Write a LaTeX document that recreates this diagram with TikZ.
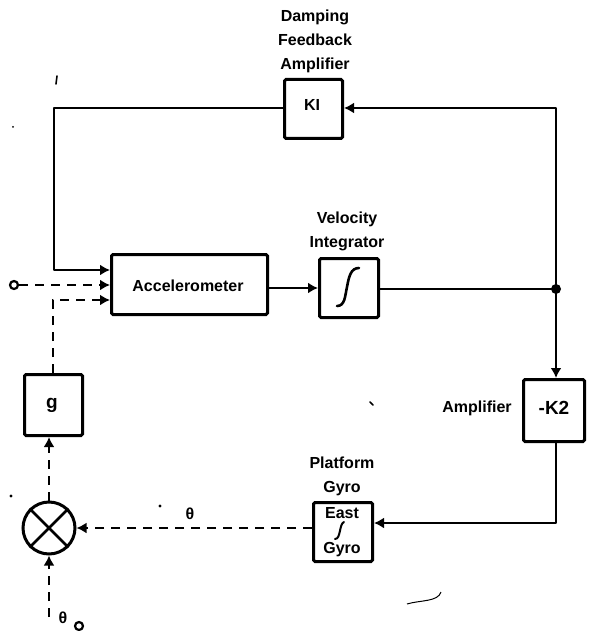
\documentclass[tikz,border=0pt]{standalone}
\usepackage{fontspec}
\setmainfont{Liberation Sans}
\usetikzlibrary{arrows.meta}
\tikzset{
 x=1pt,y=-1pt,
 blockbox/.style={draw,line width=3pt,rounded corners=1.5pt,inner sep=0pt,anchor=north west},
 lab/.style={font=\bfseries\fontsize{16}{24}\selectfont,inner sep=0pt,align=center},
 big/.style={font=\bfseries\fontsize{19}{19}\selectfont,inner sep=0pt},
 solidline/.style={line width=2.8pt,-{Latex[length=10pt,width=11pt]}},
 plainline/.style={line width=2.8pt},
 dashline/.style={line width=2.8pt,dash pattern=on 9pt off 7pt,-{Latex[length=10pt,width=11pt]}},
 smallring/.style={draw,circle,line width=2.2pt,minimum size=8pt,inner sep=0pt},
 speck/.style={line width=1.6pt,line cap=round},
 integ/.style={line width=2.6pt,line cap=round},
}
\begin{document}
\begin{tikzpicture}
\useasboundingbox (0,0) rectangle (592,631);
\fill[white] (0,0) rectangle (592,631);
\node[blockbox,minimum width=58pt,minimum height=59pt] (k1) at (283,78) {};
\node[lab] at (312,105) {KI};
\node[blockbox,minimum width=156pt,minimum height=60pt] (acc) at (110,253) {};
\node[lab] at (188,286) {Accelerometer};
\node[blockbox,minimum width=59pt,minimum height=59pt] (int) at (318,257) {};
\draw[integ] (337,306) .. controls (345,306) and (345,296) .. (347,287) .. controls (349,276) and (351,268) .. (359,268);
\node[blockbox,minimum width=58pt,minimum height=61pt] (g) at (23,373) {};
\node[big] at (52,405) {g};
\node[blockbox,minimum width=61pt,minimum height=62pt] (k2) at (522,378) {};
\node[big] at (554,408) {-K2};
\node[blockbox,minimum width=59pt,minimum height=59pt] (gyro) at (312,501) {};
\node[lab] at (342,513) {East};
\draw[line width=2pt,line cap=round] (335,539) .. controls (341,539) and (339,524) .. (344,522);
\node[lab] at (342,550) {Gyro};
\node[draw,circle,line width=3pt,minimum size=52pt,inner sep=0pt] (mix) at (49,528) {};
\draw[line width=2.6pt] (mix.north west)--(mix.south east) (mix.north east)--(mix.south west);
\node[lab] at (315,41) {Damping\\Feedback\\Amplifier};
\node[lab] at (347,231) {Velocity\\Integrator};
\node[lab] at (342,476) {Platform\\Gyro};
\node[lab] at (477,408) {Amplifier};
\node[lab] at (190,514) {θ};
\node[lab] (th0) at (63,618) {θ};
\node[smallring] (in0) at (14,285) {};
\node[smallring] at (79,626) {};
\coordinate (junc) at (556,289);
\coordinate (tr) at (556,108);
\coordinate (tl) at (54,108);
\coordinate (bl) at (54,270);
\coordinate (dc) at (53,300);
\coordinate (br) at (556,523);
\coordinate (st) at (50,617);
\fill (junc) circle (5pt);
\draw[plainline,line join=round,-{Latex[length=10pt,width=11pt]}] (junc) -- (tr) -- (k1.east |- tr);
\draw[plainline,line join=round,-{Latex[length=10pt,width=11pt]}] (k1.west |- tl) -- (tl) -- (bl) -- (acc.west |- bl);
\draw[solidline] (acc.east |- 0,288) -- (int.west |- 0,288);
\draw[plainline] (int.east |- junc) -- (junc);
\draw[solidline] (junc) -- (k2.north -| junc);
\draw[plainline,line join=round,-{Latex[length=10pt,width=11pt]}] (k2.south -| br) -- (br) -- (gyro.east |- br);
\draw[dashline] (in0) -- (acc.west |- in0);
\draw[dashline] (g.north -| dc) -- (dc) -- (acc.west |- dc);
\draw[dashline] (mix.north) -- (mix.north |- g.south);
\draw[dashline] (gyro.west |- mix.east) -- (mix.east);
\draw[dashline] (st -| mix.south) -- (mix.south);
\draw[speck] (57,76) -- (56,84);
\draw[speck] (370,402) -- (373,405);
\fill (160,506) circle (1.6pt);
\fill (11,496) circle (1.6pt);
\fill (13,127) circle (1pt);
\draw[line width=1pt] (407,604) .. controls (420,600) and (438,602) .. (441,592);
\end{tikzpicture}
\end{document}
